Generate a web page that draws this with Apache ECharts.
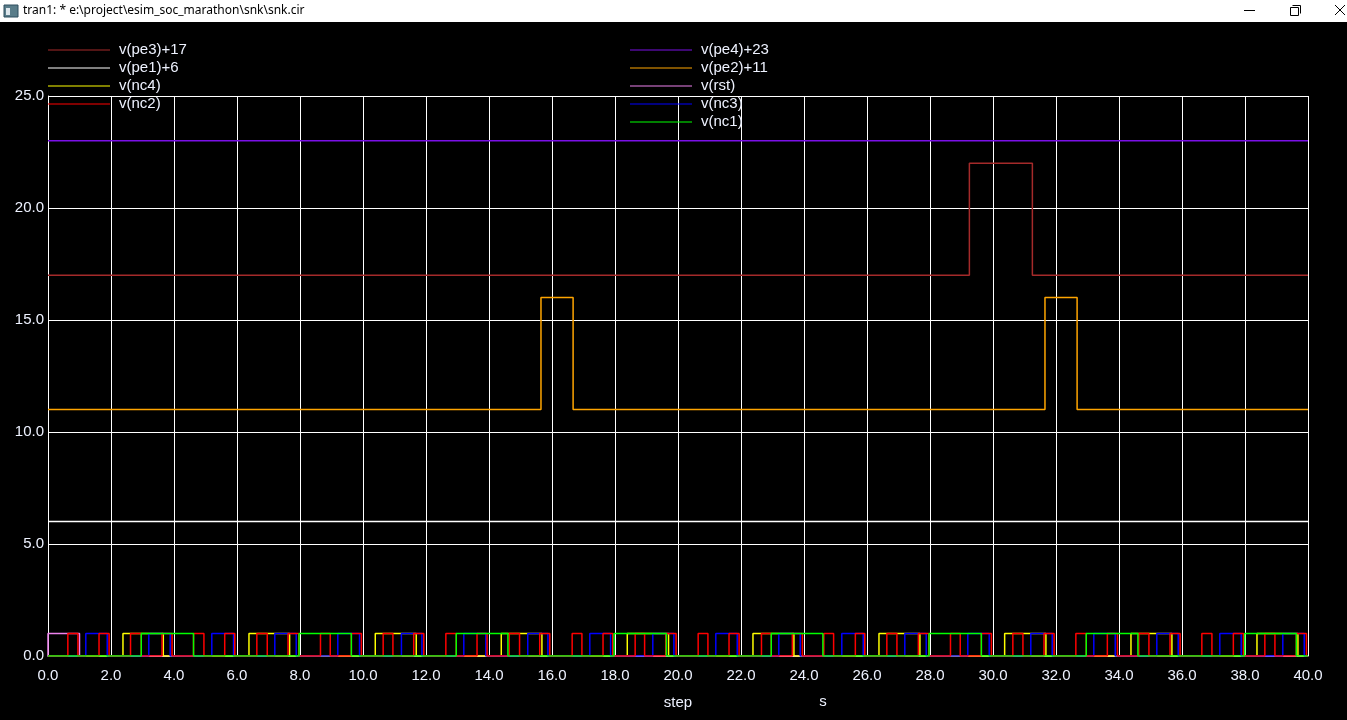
<!DOCTYPE html>
<html><head><meta charset="utf-8">
<script src="https://cdn.jsdelivr.net/npm/echarts@6/dist/echarts.min.js"></script>
<style>html,body{margin:0;padding:0;background:#000;overflow:hidden}#c{width:1347px;height:720px}</style>
</head><body><div id="c"></div>
<script>
// ---- data ----
const windowTitle = 'tran1: * e:\\project\\esim_soc_marathon\\snk\\snk.cir';
const xName = 'step';
const xUnit = 's';
const tEnd = 40;

// trace names (legend columns)
const legendLeft = ['v(pe3)+17', 'v(pe1)+6', 'v(nc4)', 'v(nc2)'];
const legendRight = ['v(pe4)+23', 'v(pe2)+11', 'v(rst)', 'v(nc3)', 'v(nc1)'];

// offsets / amplitudes
const pe4Base = 23, pe3Base = 17, pe2Base = 11, pe1Base = 6;
const peAmp = 5, ncAmp = 1;

// high intervals [rise, fall] for each trace
const pe4High = [];
const pe3High = [[29.25, 31.25]];
const pe2High = [[15.65, 16.67], [31.65, 32.67]];
const pe1High = [];
const rstHigh = [[0, 1.0]];
const nc4High = [[2.38, 3.66], [6.38, 7.67], [10.39, 11.69], [14.39, 15.68], [18.39, 19.70],
  [22.38, 23.68], [26.38, 27.68], [30.37, 31.68], [34.38, 35.68], [38.38, 39.68]];
const nc3High = [[1.20, 1.88], [3.20, 3.88], [5.20, 5.89], [7.20, 7.88], [9.20, 9.89],
  [11.22, 11.87], [13.20, 13.90], [15.23, 15.87], [17.20, 17.86], [19.20, 19.87],
  [21.20, 21.88], [23.20, 23.88], [25.20, 25.88], [27.20, 27.88], [29.20, 29.88],
  [31.20, 31.88], [33.20, 33.88], [35.20, 35.88], [37.20, 37.88], [39.20, 39.88]];
const nc2High = [[0.63, 0.95], [1.62, 1.94], [2.62, 2.96], [3.62, 3.94], [4.62, 4.95],
  [5.61, 5.93], [6.63, 6.96], [7.62, 7.96], [8.65, 8.96], [9.63, 9.95],
  [10.64, 10.95], [11.61, 11.93], [12.63, 12.96], [13.62, 13.94], [14.64, 14.97],
  [15.61, 15.93], [16.64, 16.95], [17.62, 17.93], [18.64, 18.94], [19.61, 19.94],
  [20.64, 20.95], [21.62, 21.94], [22.65, 22.96], [23.63, 23.95], [24.63, 24.94],
  [25.63, 25.93], [26.63, 26.95], [27.63, 27.96], [28.65, 28.96], [29.63, 29.95],
  [30.63, 30.95], [31.62, 31.94], [32.63, 32.96], [33.63, 33.95], [34.63, 34.95],
  [35.62, 35.94], [36.63, 36.95], [37.63, 37.95], [38.63, 38.95], [39.63, 39.95]];
const nc1High = [[2.96, 4.62], [7.97, 9.63], [12.96, 14.60], [17.97, 19.63],
  [22.96, 24.60], [27.97, 29.63], [32.96, 34.60], [37.99, 39.63]];

// ---- build step polylines ----
function steps(base, amp, highs) {
  const pts = [[0, base]];
  highs.forEach(([a, b]) => {
    pts.push([a, base], [a, base + amp], [b, base + amp], [b, base]);
  });
  pts.push([tEnd, base]);
  return pts;
}

const FONT = '"Liberation Sans", Arial, sans-serif';
function trace(name, color, data) {
  return {
    name, type: 'line', data, showSymbol: false, symbol: 'none', silent: true,
    lineStyle: { color, width: 1.5 }, itemStyle: { color },
    emphasis: { disabled: true }, animation: false
  };
}

const series = [
  trace('v(pe4)+23', '#7a10e6', steps(pe4Base, peAmp, pe4High)),
  trace('v(pe3)+17', '#a52a2a', steps(pe3Base, peAmp, pe3High)),
  trace('v(pe2)+11', '#ffa500', steps(pe2Base, peAmp, pe2High)),
  trace('v(pe1)+6', '#ffffff', steps(pe1Base, peAmp, pe1High)),
  trace('v(rst)', '#ee82ee', steps(0, ncAmp, rstHigh)),
  trace('v(nc4)', '#ffff00', steps(0, ncAmp, nc4High)),
  trace('v(nc3)', '#0000ff', steps(0, ncAmp, nc3High)),
  trace('v(nc2)', '#ff0000', steps(0, ncAmp, nc2High)),
  trace('v(nc1)', '#00ff00', steps(0, ncAmp, nc1High))
];

function legendCfg(left, data) {
  return {
    left, top: 41, orient: 'vertical', padding: 0, itemGap: 0,
    itemWidth: 62, itemHeight: 1, icon: 'rect', selectedMode: false, data,
    textStyle: { color: '#eef2ff', fontSize: 15, lineHeight: 18, fontFamily: FONT, padding: [0, 0, 0, 4] }
  };
}

const chart = echarts.init(document.getElementById('c'), null, { renderer: 'canvas' });
chart.setOption({
  backgroundColor: '#000',
  animation: false,
  grid: { left: 48, right: 39, top: 96, bottom: 64, containLabel: false },
  legend: [legendCfg(48, legendLeft), legendCfg(630, legendRight)],
  xAxis: {
    type: 'value', min: 0, max: 40, interval: 2,
    name: xName, nameLocation: 'middle', nameGap: 39,
    nameTextStyle: { color: '#eef2ff', fontSize: 15, fontFamily: FONT },
    axisLine: { show: true, lineStyle: { color: '#fff', width: 1 } },
    axisTick: { show: false },
    axisLabel: { color: '#eef2ff', fontSize: 15, fontFamily: FONT, margin: 12, formatter: v => v.toFixed(1) },
    splitLine: { show: true, lineStyle: { color: '#fff', width: 1 } }
  },
  yAxis: {
    type: 'value', min: 0, max: 25, interval: 5,
    axisLine: { show: true, lineStyle: { color: '#fff', width: 1 } },
    axisTick: { show: false },
    axisLabel: { color: '#eef2ff', fontSize: 15, fontFamily: FONT, margin: 4, padding: [3, 0, 0, 0], formatter: v => v.toFixed(1) },
    splitLine: { show: true, lineStyle: { color: '#fff', width: 1 } }
  },
  graphic: [
    { type: 'rect', shape: { x: 0, y: 0, width: 1347, height: 22 }, style: { fill: '#fff' }, silent: true },
    { type: 'rect', shape: { x: 4, y: 5, width: 14, height: 12 }, style: { fill: '#5a7d8a', stroke: '#2f4f5f', lineWidth: 1 }, silent: true },
    { type: 'rect', shape: { x: 6, y: 8, width: 4, height: 7 }, style: { fill: '#dfe8ee' }, silent: true },
    { type: 'text', x: 23, y: 11, style: { text: windowTitle, fill: '#000', font: '12px "Noto Sans", "DejaVu Sans", sans-serif', textVerticalAlign: 'middle' }, silent: true },
    { type: 'line', shape: { x1: 1244, y1: 10.5, x2: 1255, y2: 10.5 }, style: { stroke: '#000', lineWidth: 1 }, silent: true },
    { type: 'rect', shape: { x: 1290.5, y: 7.5, width: 8, height: 8 }, style: { fill: 'none', stroke: '#000', lineWidth: 1 }, silent: true },
    { type: 'polyline', shape: { points: [[1292.5, 5.5], [1300.5, 5.5], [1300.5, 13.5]] }, style: { fill: 'none', stroke: '#000', lineWidth: 1 }, silent: true },
    { type: 'line', shape: { x1: 1335, y1: 5, x2: 1345, y2: 15 }, style: { stroke: '#000', lineWidth: 1 }, silent: true },
    { type: 'line', shape: { x1: 1345, y1: 5, x2: 1335, y2: 15 }, style: { stroke: '#000', lineWidth: 1 }, silent: true },
    { type: 'text', x: 823, y: 702, style: { text: xUnit, fill: '#eef2ff', font: '15px ' + FONT, textAlign: 'center', textVerticalAlign: 'middle' }, silent: true }
  ],
  series
});
</script>
</body></html>
